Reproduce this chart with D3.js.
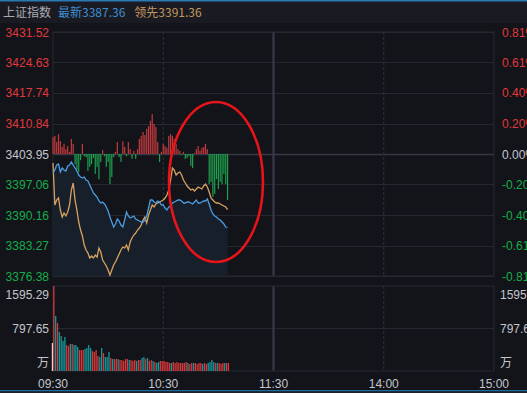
<!DOCTYPE html>
<html>
<head>
<meta charset="utf-8">
<script src="https://cdn.jsdelivr.net/npm/d3@7"></script>
<style>
  html, body { margin: 0; padding: 0; background: #13141a; overflow: hidden; }
  svg { display: block; }
  text { font-family: "Liberation Sans", Arial, "Noto Sans CJK SC", sans-serif; font-size: 12px; }
  .cn { font-family: "Noto Sans CJK SC", sans-serif; }
</style>
</head>
<body>
<div id="chart"></div>
<script>
// chart data
const prevClose = 3403.95;
const priceTicks = [3431.52, 3424.63, 3417.74, 3410.84, 3403.95, 3397.06, 3390.16, 3383.27, 3376.38];
const pctTicks = ["0.81%", "0.61%", "0.40%", "0.20%", "0.00%", "-0.20%", "-0.40%", "-0.61%", "-0.81%"];
const timeTicks = [0, 60, 120, 180, 240];
const timeLabels = ["09:30", "10:30", "11:30", "14:00", "15:00"];
const volTicks = ["1595.29", "797.65", "万"];
const volMax = 1595.29;

// 最新 (index price), one value per minute from 09:30
const price = [
  3399.66, 3400.33, 3401.46, 3401.69, 3399.88, 3400.79, 3400.33, 3400.11, 3401.24, 3401.46,
  3402.14, 3401.46, 3400.79, 3400.11, 3399.20, 3398.75, 3398.53, 3398.75, 3398.07, 3397.85,
  3396.94, 3396.04, 3395.14, 3394.68, 3394.23, 3393.33, 3392.88, 3393.10, 3392.65, 3391.97,
  3391.07, 3389.71, 3388.58, 3387.45, 3388.13, 3389.26, 3388.81, 3387.90, 3387.45, 3389.03,
  3390.84, 3389.94, 3389.49, 3389.71, 3389.94, 3389.26, 3389.03, 3388.81, 3388.58, 3388.58,
  3389.03, 3389.94, 3391.75, 3393.55, 3393.55, 3393.10, 3392.88, 3393.33, 3393.10, 3392.42,
  3392.42, 3391.75, 3391.29, 3391.97, 3392.20, 3392.88, 3393.10, 3393.33, 3393.55, 3393.55,
  3393.33, 3392.88, 3392.88, 3393.10, 3393.10, 3392.88, 3392.65, 3393.10, 3393.55, 3392.88,
  3392.88, 3393.10, 3393.33, 3393.33, 3393.78, 3392.65, 3391.29, 3390.39, 3389.94, 3389.71,
  3389.26, 3389.03, 3388.58, 3388.13, 3387.45, 3387.36
];

// 领先 (leading index)
const lead = [
  3401.92, 3392.42, 3393.55, 3394.01, 3391.29, 3389.71, 3390.62, 3389.94, 3390.84, 3392.42,
  3395.81, 3397.40, 3393.55, 3391.29, 3388.58, 3386.77, 3385.42, 3383.38, 3382.25, 3381.58,
  3380.45, 3380.90, 3380.45, 3381.12, 3380.67, 3382.71, 3381.80, 3379.99, 3379.32, 3378.64,
  3377.73, 3376.60, 3377.73, 3378.86, 3379.54, 3380.45, 3381.35, 3382.25, 3382.93, 3382.71,
  3383.38, 3382.25, 3384.06, 3384.97, 3385.64, 3386.10, 3386.77, 3387.23, 3387.90, 3389.03,
  3389.71, 3388.36, 3390.16, 3391.29, 3392.42, 3391.97, 3392.65, 3392.88, 3393.10, 3393.33,
  3393.55, 3394.01, 3394.68, 3395.81, 3398.07, 3400.79, 3400.33, 3399.20, 3399.66, 3399.88,
  3399.20, 3398.07, 3397.40, 3396.72, 3396.27, 3395.81, 3396.04, 3395.59, 3396.04, 3396.49,
  3396.27, 3396.04, 3396.72, 3397.17, 3396.49, 3395.36, 3394.01, 3393.55, 3393.10, 3392.88,
  3392.88, 3392.65, 3392.42, 3392.20, 3391.97, 3391.36
];

// red/green strength bars around the zero line (points)
const strength = [
  3.8, 4.1, 2.7, 4.5, 2.9, 1.6, 2.3, 1.1, 1.8, 0.5,
  3.4, 2.3, -2.3, -3.6, -4.1, -1.4, 2.3, -0.5, -0.7, -3.8,
  -2.9, -2.3, -0.9, -4.5, -2.9, -5.7, -1.8, 0.9, -0.5, -2.9,
  -1.8, -6.8, -5.2, -0.7, 0.5, 2.7, -0.7, -1.8, 2.9, 1.6,
  -0.5, 2.7, 1.1, -1.1, 0.7, -1.1, 1.1, 3.4, 4.1, 5.0,
  4.3, 5.7, 6.3, 7.5, 9.0, 6.8, 6.1, 2.7, -1.8, 0.5,
  2.3, 1.8, 1.4, 4.1, 4.5, 4.1, 3.4, 2.3, 1.1, 0.7,
  -0.2, 0.5, -1.1, -0.9, -0.5, -2.7, -3.2, 0.2, 1.1, 1.8,
  0.7, 1.4, 1.6, 2.3, 1.1, -6.8, -6.3, -9.7, -9.0, -5.7,
  -7.9, -6.3, -6.8, -4.5, -6.8, -10.4
];

// volume (万), auction bar first
const auctionVol = 526;
const volume = [
  1595, 1032, 901, 732, 657, 563, 638, 488, 469, 507,
  507, 488, 488, 450, 394, 394, 394, 413, 432, 488,
  432, 375, 357, 394, 282, 263, 432, 338, 263, 263,
  357, 244, 225, 225, 225, 225, 206, 206, 188, 225,
  225, 206, 206, 188, 206, 188, 206, 206, 244, 263,
  225, 244, 188, 206, 188, 169, 150, 169, 188, 188,
  188, 169, 169, 150, 150, 169, 150, 169, 150, 150,
  150, 150, 169, 150, 131, 150, 150, 150, 131, 150,
  150, 131, 150, 131, 150, 169, 206, 169, 150, 150,
  150, 131, 150, 150, 150, 150
];
// 1 = up minute (red), 0 = down minute (teal)
const volUp = [
  1, 0, 1, 0, 0, 0, 0, 1, 1, 0,
  1, 0, 0, 0, 1, 1, 1, 0, 0, 0,
  0, 1, 1, 1, 1, 0, 0, 1, 0, 0,
  0, 1, 0, 1, 1, 0, 1, 1, 1, 1,
  1, 0, 1, 1, 1, 0, 1, 1, 0, 0,
  1, 0, 1, 1, 0, 1, 0, 0, 1, 1,
  1, 1, 1, 1, 0, 1, 1, 1, 1, 1,
  1, 1, 1, 0, 1, 1, 0, 1, 1, 1,
  1, 0, 1, 1, 0, 0, 0, 0, 1, 0,
  1, 1, 1, 0, 1, 1
];

const width = 527, height = 393;
const left = 53, right = 494;
const mainTop = 32, mainBottom = 276;
const volTop = 286, volBottom = 371;

const RED = "#e0383c", GREEN = "#16ad4a", GRAY = "#c4c6cc";
const GRID = "#252731";

const svg = d3.select("#chart").append("svg")
    .attr("width", width)
    .attr("height", height);

svg.append("rect").attr("width", width).attr("height", height).attr("fill", "#13141a");

// header band
svg.append("rect").attr("x", 0).attr("y", 0).attr("width", width).attr("height", 23).attr("fill", "#1a1b22");
svg.append("rect").attr("x", 0).attr("y", 0).attr("width", width).attr("height", 1.5).attr("fill", "#2a78b4");
svg.append("rect").attr("x", 0).attr("y", 390).attr("width", width).attr("height", 1.5).attr("fill", "#1f6aa0");
svg.append("rect").attr("x", 0).attr("y", 391.5).attr("width", width).attr("height", 2).attr("fill", "#1d2029");

const header = svg.append("text").attr("class", "cn").attr("y", 16.5).attr("x", 3);
header.append("tspan").attr("fill", "#a9abb3").text("上证指数");
header.append("tspan").attr("dx", 7).attr("fill", "#3f8fd2").text("最新" + price[price.length - 1].toFixed(2));
header.append("tspan").attr("dx", 9).attr("fill", "#c4975f").text("领先" + lead[lead.length - 1].toFixed(2));

// scales
const x = d3.scaleLinear().domain([0, 240]).range([left, right]);
const y = d3.scaleLinear().domain([priceTicks[8], priceTicks[0]]).range([mainBottom, mainTop]);
const vy = d3.scaleLinear().domain([0, volMax]).range([volBottom, volTop]);

// grids
function drawFrame(top, bottom, hLines) {
    const g = svg.append("g");
    hLines.forEach(v => {
        g.append("line").attr("x1", left).attr("x2", right).attr("y1", v.y).attr("y2", v.y)
            .attr("stroke", v.strong ? "#353946" : GRID).attr("stroke-width", v.strong ? 1.6 : 1);
    });
    timeTicks.slice(1, 4).forEach((t, i) => {
        const ln = g.append("line").attr("x1", x(t)).attr("x2", x(t)).attr("y1", top).attr("y2", bottom);
        if (i === 1) ln.attr("stroke", "#383c4a").attr("stroke-width", 2);
        else ln.attr("stroke", "#2e313d").attr("stroke-dasharray", "3,2");
    });
    g.append("rect").attr("x", left).attr("y", top).attr("width", right - left).attr("height", bottom - top)
        .attr("fill", "none").attr("stroke", "#262833");
}

drawFrame(mainTop, mainBottom, priceTicks.map(p => ({ y: Math.round(y(p)) + 0.5, strong: p === prevClose })));
drawFrame(volTop, volBottom, [{ y: vy(volMax / 2) }]);

// price axis labels
priceTicks.forEach((p, i) => {
    const c = p > prevClose ? RED : (p < prevClose ? GREEN : GRAY);
    svg.append("text").attr("x", 49).attr("y", y(p) + 4.5).attr("text-anchor", "end").attr("fill", c).text(p.toFixed(2));
    svg.append("text").attr("x", 502).attr("y", y(p) + 4.5).attr("fill", c).text(pctTicks[i]);
});

// volume labels
const volLabelY = [294 + 4.5, vy(volMax / 2) + 4.5, 362 + 4.5];
volTicks.forEach((t, i) => {
    svg.append("text").attr("class", i === 2 ? "cn" : null).attr("x", 49).attr("y", volLabelY[i])
        .attr("text-anchor", "end").attr("fill", GRAY).text(t);
    svg.append("text").attr("class", i === 2 ? "cn" : null).attr("x", 500).attr("y", volLabelY[i])
        .attr("fill", GRAY).text(t);
});

// time labels
timeTicks.forEach((t, i) => {
    svg.append("text").attr("x", x(t)).attr("y", 387.5).attr("text-anchor", "middle")
        .attr("fill", GRAY).text(timeLabels[i]);
});

// area under price line
svg.append("path")
    .datum(price)
    .attr("fill", "#18202e")
    .attr("opacity", 0.9)
    .attr("d", d3.area().x((d, i) => x(i)).y0(mainBottom).y1(d => y(d)));

// strength bars
svg.append("g").selectAll("rect")
    .data(strength)
    .enter().append("rect")
    .attr("x", (d, i) => x(i) - 0.6)
    .attr("width", 1.2)
    .attr("y", d => d > 0 ? y(prevClose + d) : y(prevClose))
    .attr("height", d => Math.abs(y(prevClose + d) - y(prevClose)))
    .attr("fill", d => d > 0 ? "#c23a3d" : "#1ea04c");

// lines
svg.append("path")
    .datum(lead)
    .attr("fill", "none")
    .attr("stroke", "#d9a25f")
    .attr("stroke-width", 1.3)
    .attr("d", d3.line().x((d, i) => x(i)).y(d => y(d)));

svg.append("path")
    .datum(price)
    .attr("fill", "none")
    .attr("stroke", "#4a9de2")
    .attr("stroke-width", 1.3)
    .attr("d", d3.line().x((d, i) => x(i)).y(d => y(d)));

// volume bars
svg.append("rect")
    .attr("x", x(0) - 1.2).attr("width", 1.2)
    .attr("y", vy(auctionVol)).attr("height", vy(0) - vy(auctionVol))
    .attr("fill", "#d8d8d8");

svg.append("g").selectAll("rect")
    .data(volume)
    .enter().append("rect")
    .attr("x", (d, i) => x(i) + 0.2)
    .attr("width", 1.3)
    .attr("y", d => vy(d))
    .attr("height", d => vy(0) - vy(d))
    .attr("fill", (d, i) => volUp[i] ? "#d7383b" : "#14999b");

// red annotation ellipse
svg.append("ellipse")
    .attr("cx", 216).attr("cy", 182).attr("rx", 47).attr("ry", 80)
    .attr("fill", "none").attr("stroke", "#e8141a").attr("stroke-width", 2.6);
</script>
</body>
</html>
